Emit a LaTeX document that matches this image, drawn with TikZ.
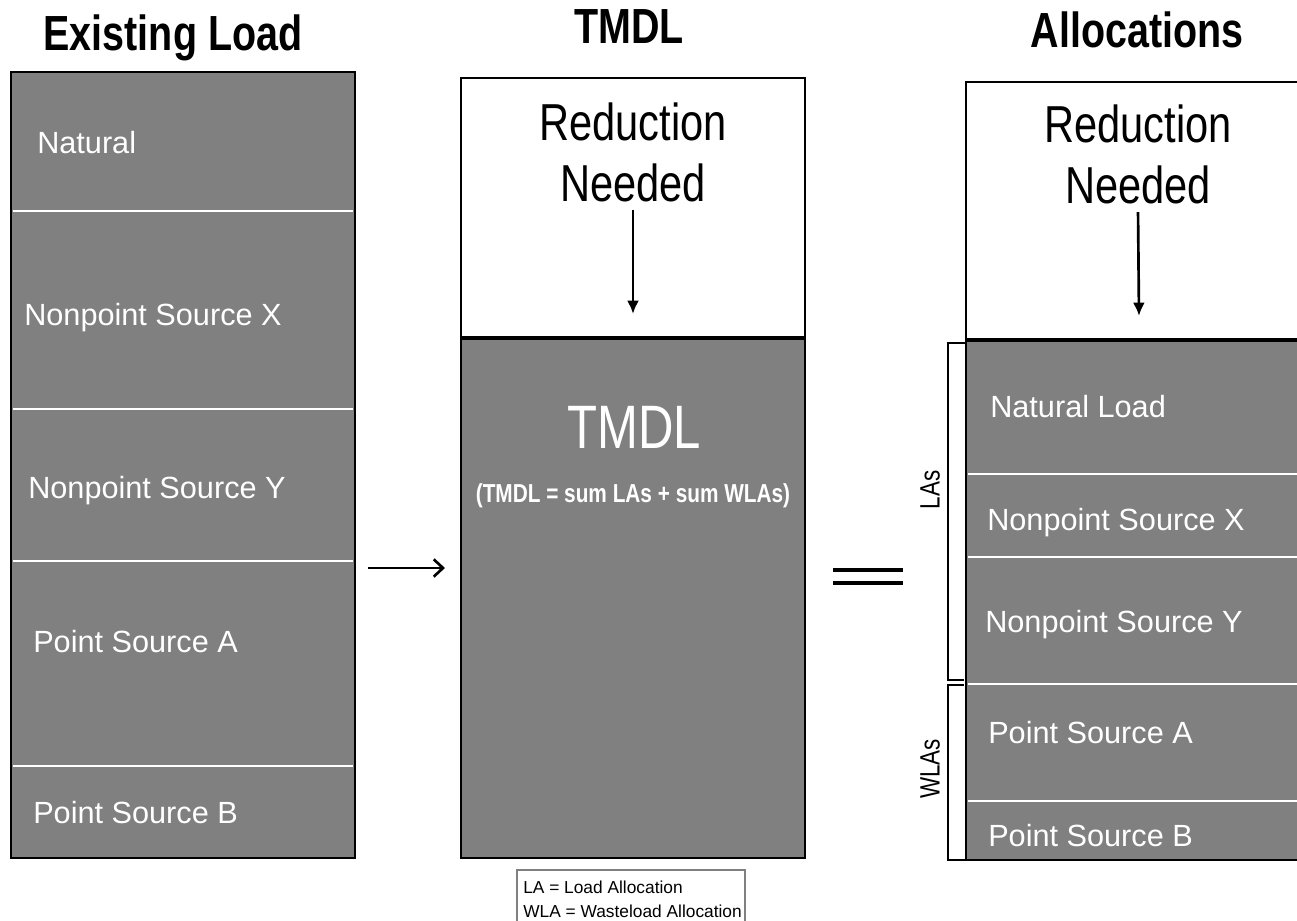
\documentclass[tikz,border=0pt]{standalone}
\usepackage{fontspec}
\setmainfont{Liberation Sans}
\newfontfamily\tallfont{Liberation Sans}[FakeStretch=0.8]
\usepackage{tikz}
\usetikzlibrary{arrows.meta}
\definecolor{loadgray}{RGB}{128,128,128}

\begin{document}
\begin{tikzpicture}[x=0.75pt,y=0.75pt,yscale=-1,xscale=1,
		headtxt/.style={font=\tallfont\bfseries\fontsize{37}{40}\selectfont, anchor=base},
		bandtxt/.style={font=\fontsize{23}{26}\selectfont, text=white, anchor=base west, inner sep=0pt},
		redtxt/.style={font=\tallfont\fontsize{39}{42}\selectfont, anchor=base},
		sidetxt/.style={font=\tallfont\fontsize{21}{24}\selectfont, rotate=90},
		divline/.style={white, line width=1.6pt},
		boxline/.style={black, line width=1.8pt},
		downarr/.style={line width=2pt, shorten <=3pt, -{Latex[length=10pt,width=9pt]}}]
		\useasboundingbox (0,0) rectangle (1297,921);
		
		%Shape: Rectangle [existing load]
		\fill[loadgray] (11,72) rectangle (355,858);
		\foreach \y in {211,409,561,766}
		\draw[divline] (13,\y) -- (353,\y);
		\draw[boxline] (11,72) rectangle (355,858);
		
		%Shape: Rectangle [tmdl]
		\fill[loadgray] (461,338) rectangle (805,858);
		\draw[boxline] (461,78) rectangle (805,858);
		\draw[black, line width=2.8pt] (461,338) -- (805,338);
		
		%Shape: Rectangle [allocations]
		\fill[loadgray] (966,340) rectangle (1310,860);
		\foreach \y in {474,557,684,801}
		\draw[divline] (968,\y) -- (1310,\y);
		\draw[boxline] (966,82) rectangle (1310,860);
		\draw[black, line width=2.8pt] (966,340) -- (1310,340);
		
		%Shape: Brackets
		\draw[line width=1.5pt] (966,343) -- (948,343) -- (948,680) -- (964,680);
		\draw[line width=1.5pt] (964,685) -- (948,685) -- (948,860) -- (966,860);
		
		%Shape: Rectangle [legend]
		\draw[gray, line width=0.8pt] (517,870) rectangle (745,935);
		
		% Text Node
		\node[headtxt] (ttlexist) at (173,50) {Existing Load};
		% Text Node
		\node[headtxt] (ttltmdl) at (629,43) {TMDL};
		% Text Node
		\node[headtxt] (ttlalloc) at (1137,47) {Allocations};
		
		% Text Node
		\node[bandtxt] (exnat) at (37,153) {Natural};
		% Text Node
		\node[bandtxt] (exnpx) at (24,325) {Nonpoint Source X};
		% Text Node
		\node[bandtxt] (exnpy) at (28,498) {Nonpoint Source Y};
		% Text Node
		\node[bandtxt] (expsa) at (33,652) {Point Source A};
		% Text Node
		\node[bandtxt] (expsb) at (33,823) {Point Source B};
		
		% Text Node
		\node[redtxt] (tmred) at (633,140) {Reduction};
		% Text Node
		\node[redtxt] (tmneed) at (633,201) {Needed};
		\coordinate (tmtip) at (633,314);
		\draw[downarr] (tmneed.south) -- (tmtip);
		% Text Node
		\node[font=\tallfont\fontsize{46}{50}\selectfont, text=white, anchor=base] (tmbig) at (634,448) {TMDL};
		% Text Node
		\node[font=\tallfont\bfseries\fontsize{19.5}{22}\selectfont, text=white, anchor=base] (tmsum) at (633,502) {(TMDL = sum LAs + sum WLAs)};
		
		% Text Node
		\node[redtxt] (alred) at (1138,142) {Reduction};
		% Text Node
		\node[redtxt] (alneed) at (1138,203) {Needed};
		\coordinate (altip) at (1139,316);
		\draw[downarr] (alneed.south) -- (altip);
		% Text Node
		\node[bandtxt] (alnat) at (990,417) {Natural Load};
		% Text Node
		\node[bandtxt] (alnpx) at (987,530) {Nonpoint Source X};
		% Text Node
		\node[bandtxt] (alnpy) at (985,632) {Nonpoint Source Y};
		% Text Node
		\node[bandtxt] (alpsa) at (988,743) {Point Source A};
		% Text Node
		\node[bandtxt] (alpsb) at (988,846) {Point Source B};
		
		% Text Node
		\node[sidetxt] (las) at (930,490) {LAs};
		% Text Node
		\node[sidetxt] (wlas) at (930,769) {WLAs};
		
		%Straight Lines [arrow]
		\coordinate (arrst) at (368,568);
		\coordinate (arrend) at (445,568);
		\draw[line width=2pt, -{Straight Barb[length=7pt,width=13pt]}] (arrst) -- (arrend);
		%Straight Lines [equals]
		\draw[line width=2.6pt] (833,570) -- (903,570);
		\draw[line width=2.6pt] (833,583) -- (903,583);
		
		% Text Node
		\node[font=\fontsize{13}{17}\selectfont, anchor=base west, align=left, inner sep=0pt] (legla) at (523,893) {LA = Load Allocation};
		% Text Node
		\node[font=\fontsize{13}{17}\selectfont, anchor=base west, align=left, inner sep=0pt] (legwla) at (523,917) {WLA = Wasteload Allocation};
		
\end{tikzpicture}
\end{document}
